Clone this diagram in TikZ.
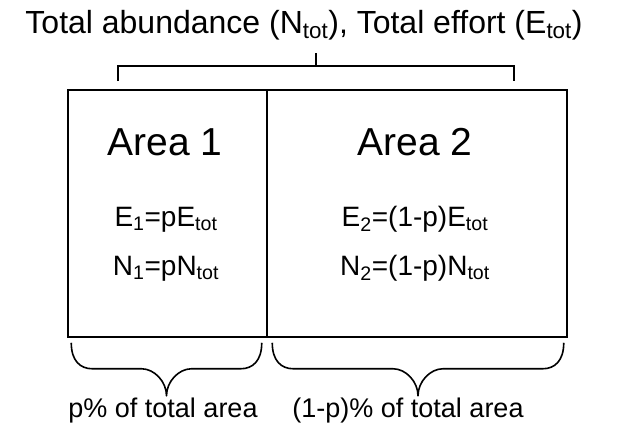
\documentclass[tikz,border=0pt]{standalone}
\usepackage{fontspec}
\setmainfont{Liberation Sans}
\usetikzlibrary{calc}

\begin{document}
\begin{tikzpicture}[
  x=1pt, y=-1pt,
  cell/.style={draw=black, line width=1.5pt, minimum width=#1,
               minimum height=247pt, inner sep=0pt},
  headline/.style={font=\fontsize{32}{38}\selectfont, anchor=base, inner sep=0pt},
  areaname/.style={font=\fontsize{39}{46}\selectfont, anchor=base, inner sep=0pt},
  formula/.style={font=\fontsize{28}{34}\selectfont, anchor=base, inner sep=0pt},
  share/.style={font=\fontsize{27}{32}\selectfont, anchor=base, inner sep=0pt},
  bracket/.style={draw=black, line width=1.6pt},
  bracestroke/.style={draw=black, line width=1.6pt, line join=round},
]
\useasboundingbox (0,0) rectangle (621,424);

%% title over both areas
\node[headline] (title) at (304,33)
  {Total abundance (N\textsubscript{tot}), Total effort (E\textsubscript{tot})};

%% the two areas
\node[cell=199pt] (area1) at (167.5,213.5) {};
\node[cell=300pt] (area2) at (417,213.5) {};

\node[areaname] (name1) at (165,155) {Area 1};
\node[areaname] (name2) at (415,155) {Area 2};

\node[formula] (eff1)   at (166,226) {E\textsubscript{1}=pE\textsubscript{tot}};
\node[formula] (abund1) at (166,275) {N\textsubscript{1}=pN\textsubscript{tot}};
\node[formula] (eff2)   at (415,226) {E\textsubscript{2}=(1-p)E\textsubscript{tot}};
\node[formula] (abund2) at (415,275) {N\textsubscript{2}=(1-p)N\textsubscript{tot}};

%% bracket joining the title to the areas
\coordinate (bl)   at (118,81);
\coordinate (br)   at (514,81);
\coordinate (bmid) at (316,66);
\draw[bracket] (bl) -- ++(0,-15) -| (br);
\draw[bracket] (bmid) -- ++(0,-13);

%% braces under the areas
\coordinate (b1s) at ([xshift=4pt,yshift=-5pt]area1.south west);
\coordinate (b1e) at ([xshift=-6pt,yshift=-5pt]area1.south east);
\coordinate (b2s) at ([xshift=6pt,yshift=-5pt]area2.south west);
\coordinate (b2e) at ([xshift=-4pt,yshift=-5pt]area2.south east);
\foreach \k in {1,2} {
  \coordinate (b\k m) at ($(b\k s)!0.5!(b\k e)+(0,53)$);
  \draw[bracestroke] (b\k s) .. controls +(0,18) and +(-12,0) .. ++(21,26)
    -- ($(b\k m)+(-25,-27)$) .. controls +(13,0) and +(0,-14) .. (b\k m)
    .. controls +(0,-14) and +(-13,0) .. ($(b\k m)+(25,-27)$)
    -- ($(b\k e)+(-21,26)$) .. controls +(12,0) and +(0,18) .. (b\k e);
}

\node[share] (share1) at (163,417) {p\% of total area};
\node[share] (share2) at (408,417) {(1-p)\% of total area};

\end{tikzpicture}
\end{document}
